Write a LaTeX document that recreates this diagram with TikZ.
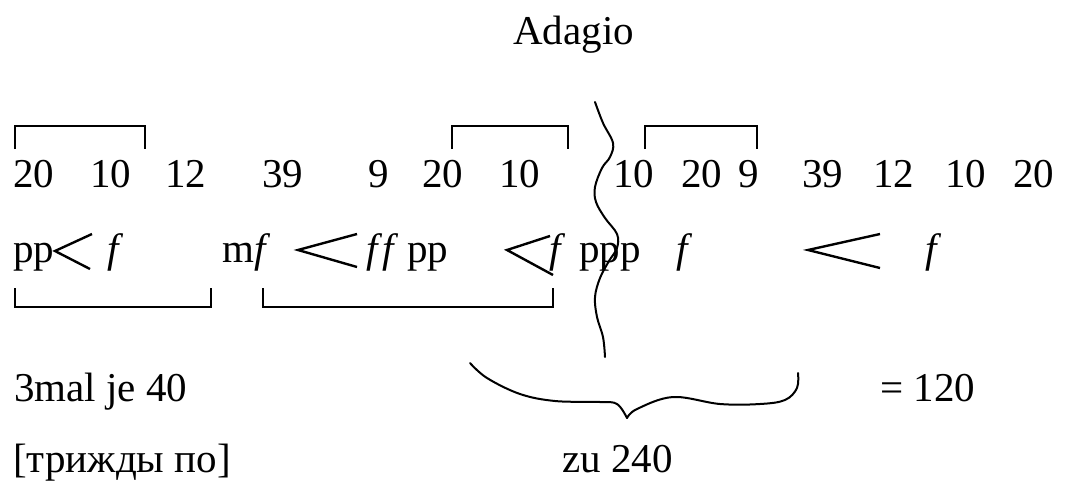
\documentclass[tikz,border=0pt]{standalone}
\usepackage{fontspec}
\setmainfont{Liberation Serif}
\begin{document}
\begin{tikzpicture}[x=1pt,y=-1pt,
  txt/.style={anchor=base west,inner sep=0pt,font=\fontsize{41}{41}\selectfont},
  bracketline/.style={line width=2.6pt},
  hairpinline/.style={line width=2.4pt},
  freehand/.style={line width=2pt,line cap=round,line join=round}]
\useasboundingbox (0,0) rectangle (1086,485);
\fill[white] (0,0) rectangle (1086,485);
% title
\node[txt] (title) at (513,44) {Adagio};
% row 1
\node[txt] (a1) at (13,187) {20};
\node[txt] (a2) at (90,187) {10};
\node[txt] (a3) at (165,187) {12};
\node[txt] (a4) at (262,187) {39};
\node[txt] (a5) at (368,187) {9};
\node[txt] (a6) at (422,187) {20};
\node[txt] (a7) at (499,187) {10};
\node[txt] (a8) at (613,187) {10};
\node[txt] (a9) at (681,187) {20};
\node[txt] (a10) at (738,187) {9};
\node[txt] (a11) at (802,187) {39};
\node[txt] (a12) at (873,187) {12};
\node[txt] (a13) at (945,187) {10};
\node[txt] (a14) at (1013,187) {20};
% top brackets
\draw[bracketline] (15,149) -- (15,126) -- (145,126) -- (145,149);
\draw[bracketline] (452,149) -- (452,126) -- (568,126) -- (568,149);
\draw[bracketline] (645,149) -- (645,126) -- (757,126) -- (757,149);
% row 2
\node[txt] (b1) at (13,262) {pp};
\draw[hairpinline] (92,234) -- (55,251) -- (90,269);
\node[txt] (b2) at (107,262) {\itshape f};
\node[txt] (b3) at (222,262) {m\itshape f};
\draw[hairpinline] (357,234) -- (298,250) -- (357,267);
\node[txt] (b4) at (366,262) {\itshape f\kern5pt f};
\node[txt] (b5) at (407,262) {pp};
\draw[hairpinline] (550,236) -- (507,250) -- (553,275);
\node[txt] (b6) at (549,262) {\itshape f};
\node[txt] (b7) at (579,262) {ppp};
\node[txt] (b8) at (676,262) {\itshape f};
\draw[hairpinline] (880,234) -- (808,250) -- (880,268);
\node[txt] (b9) at (925,262) {\itshape f};
% bottom brackets
\draw[bracketline] (15,288) -- (15,307) -- (211,307) -- (211,288);
\draw[bracketline] (263,288) -- (263,307) -- (553,307) -- (553,288);
% wavy divider
\draw[freehand] plot[smooth,tension=0.6] coordinates {(595,102) (603,123) (613,143) (610,157) (602,168) (595,187) (596,202) (605,218) (617,234) (617,248) (609,261) (600,278) (595,297) (597,317) (603,337) (605,357)};
% brace
\draw[freehand] plot[smooth,tension=0.6] coordinates {(470,363) (487,378) (520,394) (555,401) (600,402) (617,404) (627,418)};
\draw[freehand] plot[smooth,tension=0.6] coordinates {(627,418) (637,409) (673,397) (720,404) (760,404) (785,400) (797,388) (798,373)};
% bottom texts
\node[txt] (c1) at (14,401) {3mal je 40};
\node[txt] (c2) at (880,401) {= 120};
\node[txt] (c3) at (13,472) {[трижды по]};
\node[txt] (c4) at (562,472) {zu 240};
\end{tikzpicture}
\end{document}
